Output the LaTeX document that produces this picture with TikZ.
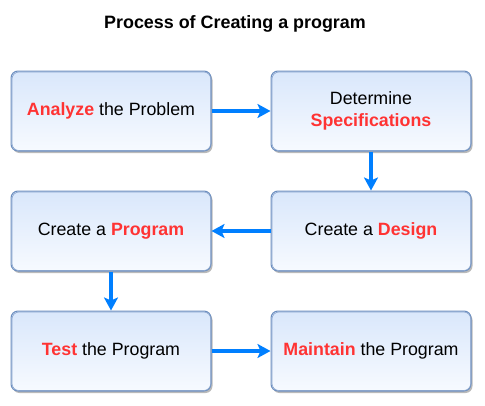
\documentclass[tikz,border=0pt]{standalone}
\usepackage{fontspec}
\setmainfont{Liberation Sans}
\usetikzlibrary{arrows.meta,shadows}
\definecolor{hl}{HTML}{FF3333}
\definecolor{arr}{HTML}{007FFF}
\definecolor{bord}{HTML}{6C8EBF}
\definecolor{topc}{HTML}{D9E7FB}
\definecolor{botc}{HTML}{F7FAFF}
\tikzset{
  procbox/.style={draw=bord, line width=1pt, rounded corners=7pt,
    top color=topc, bottom color=botc,
    minimum width=200pt, minimum height=80pt, align=center,
    font=\fontsize{17.8}{21.5}\selectfont,
    drop shadow={shadow xshift=1.5pt, shadow yshift=-2pt, fill=black!45, opacity=0.6}},
  flow/.style={draw=arr, line width=3.4pt, -{Stealth[length=13pt,width=14pt,inset=3pt]}}
}
\newcommand{\hlw}[1]{\textcolor{hl}{\textbf{#1}}}
\begin{document}
\begin{tikzpicture}[x=1pt,y=-1pt]
\useasboundingbox (0,0) rectangle (485,405);
\node[font=\fontsize{17.9}{21}\selectfont\bfseries] (title) at (235,24) {Process of Creating a program};
\node[procbox] (a) at (111,111) {\hlw{Analyze} the Problem};
\node[procbox] (b) at (371,111) {Determine\\\hlw{Specifications}};
\node[procbox] (c) at (371,231) {Create a \hlw{Design}};
\node[procbox] (d) at (111,231) {Create a \hlw{Program}};
\node[procbox] (e) at (111,351) {\hlw{Test} the Program};
\node[procbox] (f) at (371,351) {\hlw{Maintain} the Program};
% sketchy second outline
\foreach \n in {a,b,c,d,e,f}{
  \draw[bord!80, line width=0.6pt, rounded corners=7pt]
    ([xshift=1.5pt,yshift=-1.5pt]\n.north west) rectangle ([xshift=-0.8pt,yshift=1pt]\n.south east);
}
\draw[flow] (a.east) -- (b.west);
\draw[flow] (b.south) -- (c.north);
\draw[flow] (c.west) -- (d.east);
\draw[flow] (d.south) -- (e.north);
\draw[flow] (e.east) -- (f.west);
\end{tikzpicture}
\end{document}
